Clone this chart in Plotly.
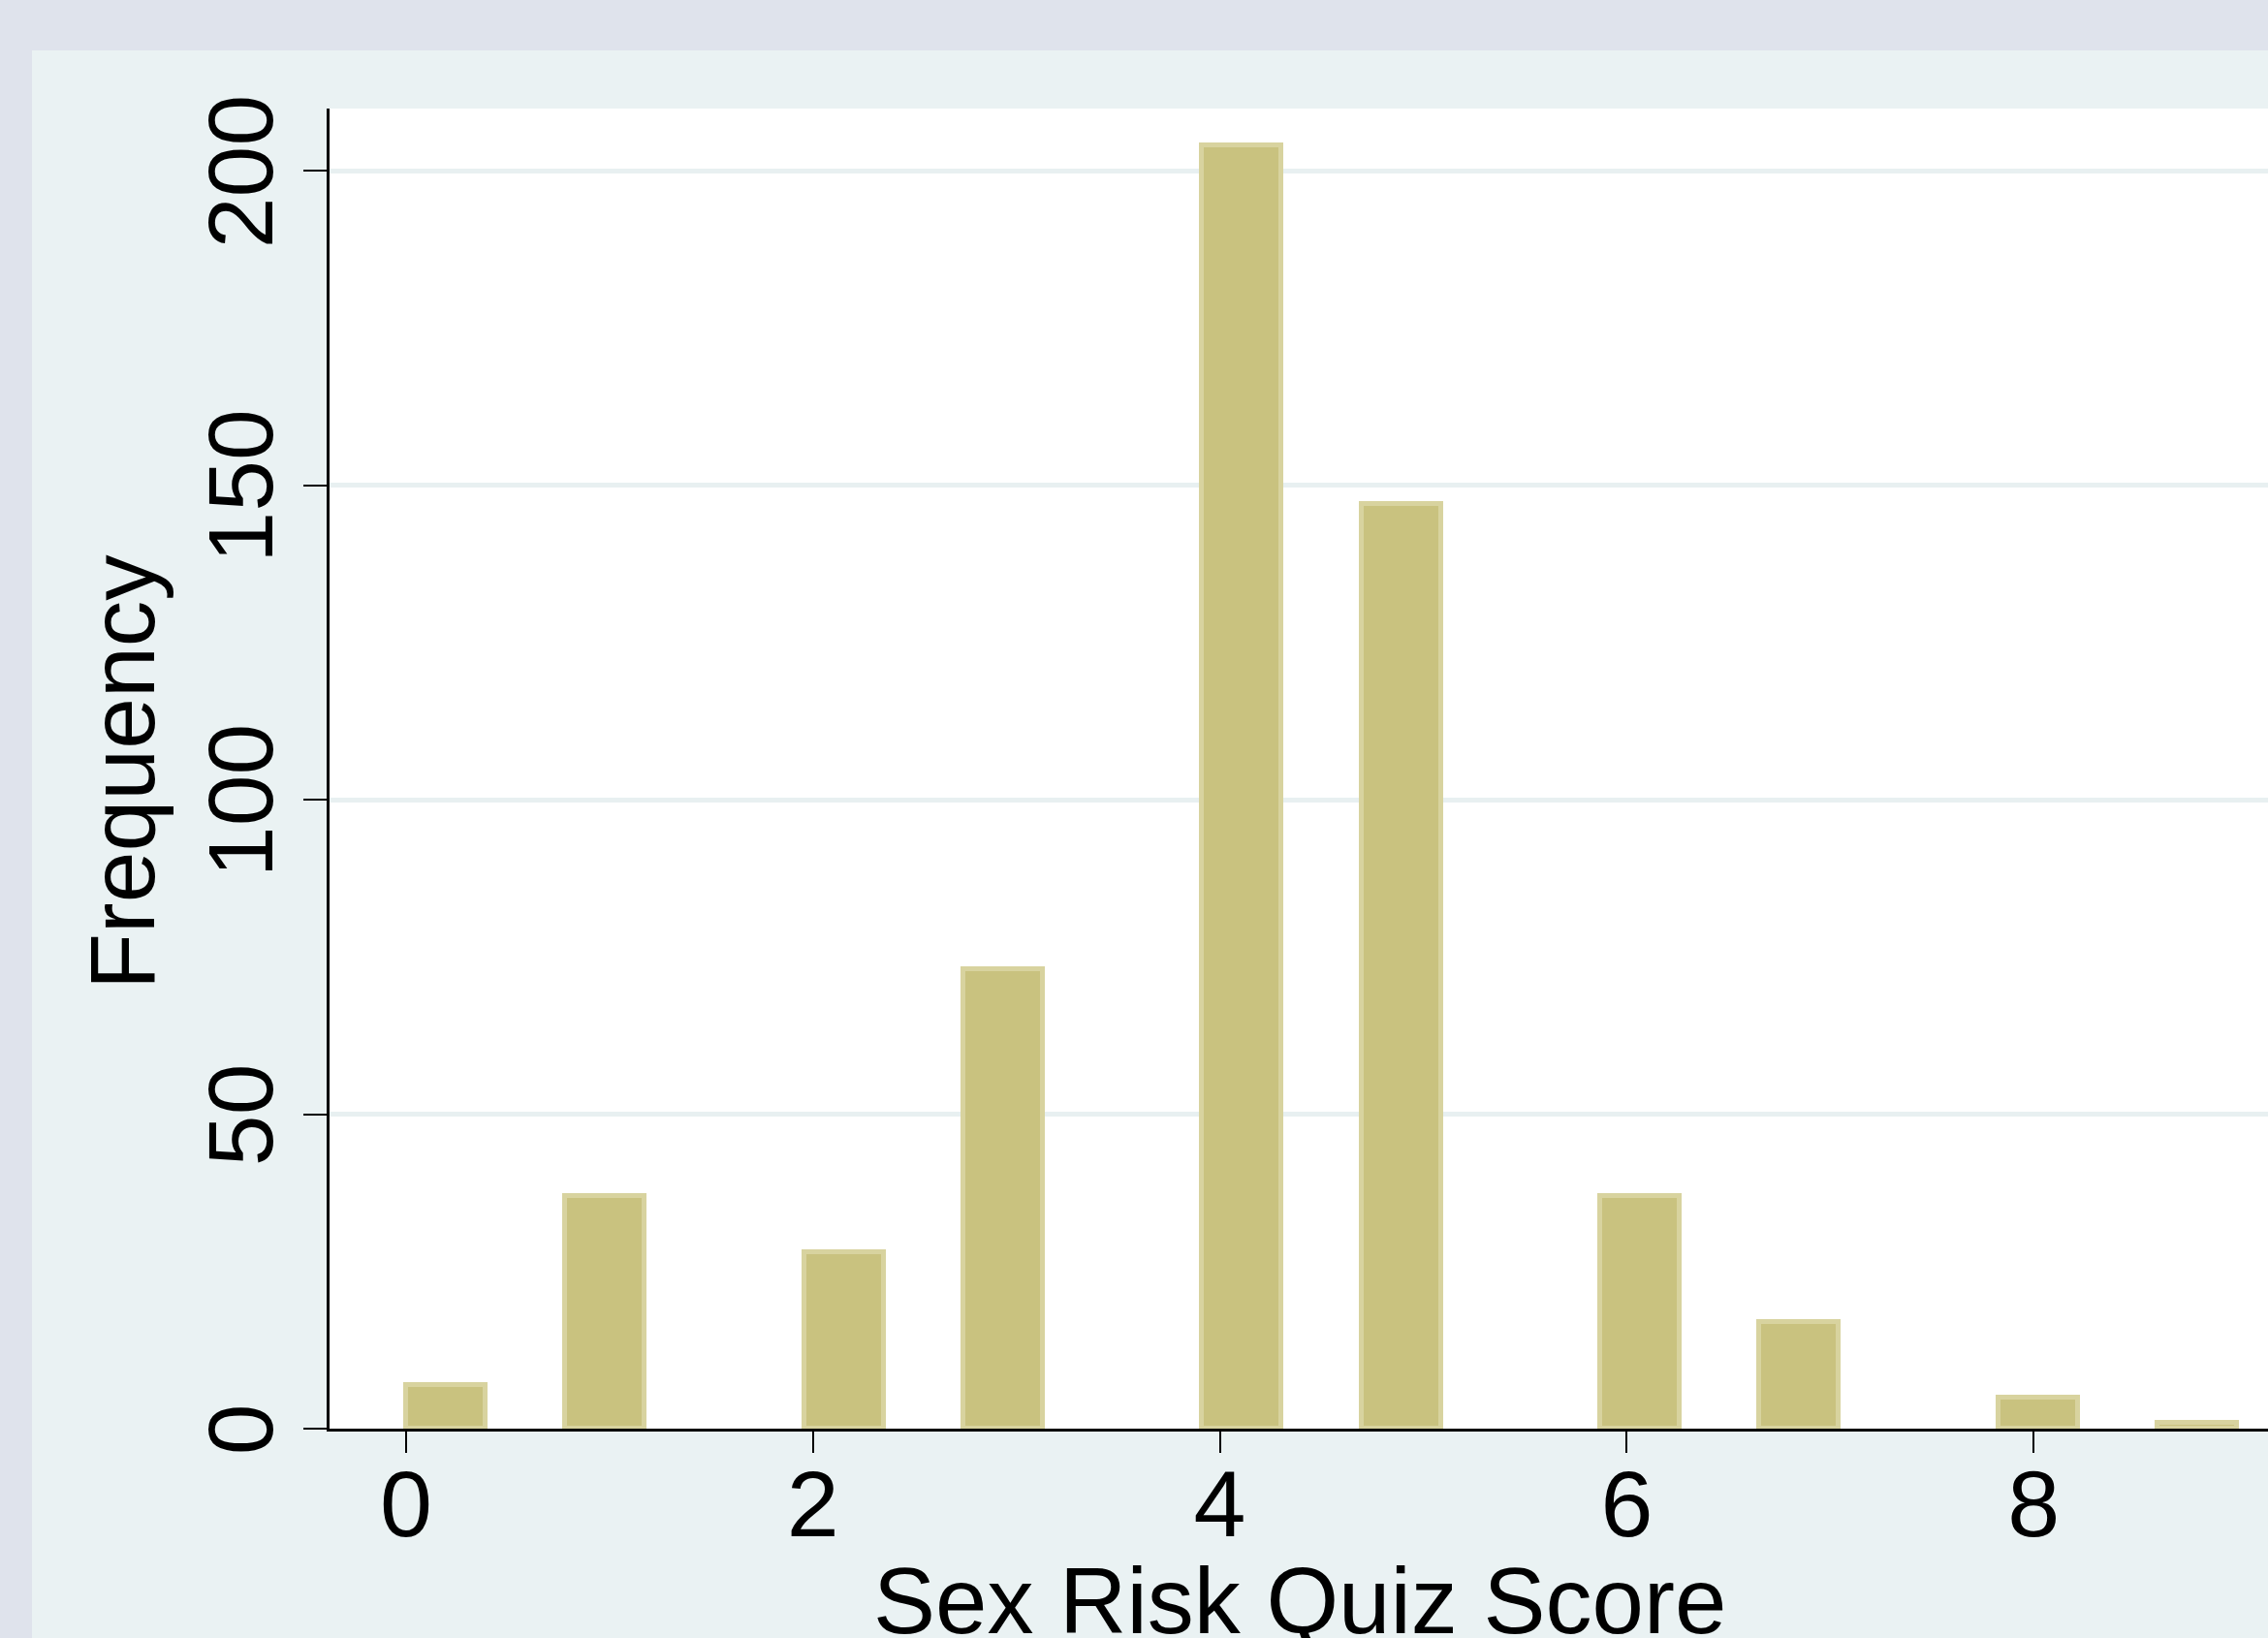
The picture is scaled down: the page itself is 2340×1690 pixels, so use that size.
import math
import plotly.graph_objects as go

# ---- data ----
scores = [0, 1, 2, 3, 4, 5, 6, 7, 8, 9]
frequency = [7, 37, 28, 73, 204, 147, 37, 17, 5, 1]
n_bins = 23                      # histogram bins spanning the score range 0..9
x_ticks = [0, 2, 4, 6, 8]
y_ticks = [0, 50, 100, 150, 200]
x_title = "Sex Risk Quiz Score"
y_title = "Frequency"

# histogram bin placement (Stata-style bins)
lo, hi = min(scores), max(scores)
bin_w = (hi - lo) / n_bins
bin_start = [lo + min(int(math.floor((s - lo) / bin_w + 1e-9)), n_bins - 1) * bin_w for s in scores]

W, H = 2340, 1690
M_L, M_R, M_T, M_B = 340, 0, 112, 216
plot_w = W - M_L - M_R
plot_h = H - M_T - M_B
FONT = "Liberation Sans, Arial, Helvetica, sans-serif"


def px_x(px):
    return (px - M_L) / plot_w


def px_y(py):
    return (H - M_B - py) / plot_h


fig = go.Figure()
fig.add_trace(go.Bar(
    x=bin_start, y=frequency, width=bin_w, offset=0,
    marker=dict(color="#c9c27f", line=dict(color="#d8d39f", width=5)),
    hoverinfo="x+y", showlegend=False,
))

# outer (graph region) bands in the darker blue-grey
OUTER = "#dfe3ec"
fig.add_shape(type="rect", xref="paper", yref="paper", layer="below",
              x0=px_x(-50), x1=px_x(W + 50), y0=px_y(52), y1=px_y(-50),
              fillcolor=OUTER, line=dict(width=0))
fig.add_shape(type="rect", xref="paper", yref="paper", layer="below",
              x0=px_x(-50), x1=px_x(33), y0=px_y(H + 50), y1=px_y(-50),
              fillcolor=OUTER, line=dict(width=0))

# axis titles
fig.add_annotation(text=x_title, xref="paper", yref="paper",
                   x=px_x(1341), y=px_y(1596), xanchor="center", yanchor="top",
                   showarrow=False, font=dict(size=96, color="#000000"))
fig.add_annotation(text=y_title, xref="paper", yref="paper",
                   x=px_x(126), y=px_y(797), xanchor="center", yanchor="middle",
                   textangle=-90, showarrow=False, font=dict(size=95, color="#000000"))

fig.update_layout(
    width=W, height=H,
    margin=dict(l=M_L, r=M_R, t=M_T, b=M_B, autoexpand=False),
    paper_bgcolor="#eaf2f3",
    plot_bgcolor="#ffffff",
    font=dict(family=FONT, size=95, color="#000000"),
    bargap=0,
    xaxis=dict(
        range=[-0.376, 9.152], tickvals=x_ticks, ticktext=[str(t) for t in x_ticks],
        showgrid=False, zeroline=False, showline=True, linecolor="#000000", linewidth=3,
        ticks="outside", ticklen=22, tickwidth=2, tickcolor="#000000",
        tickfont=dict(size=97), ticklabelstandoff=-30,
        automargin=False,
    ),
    yaxis=dict(
        range=[0, 209.9], tickvals=y_ticks, ticktext=[str(t) for t in y_ticks],
        showgrid=True, gridcolor="#e8f0f1", gridwidth=5,
        zeroline=False, showline=True, linecolor="#000000", linewidth=3,
        ticks="outside", ticklen=24, tickwidth=2, tickcolor="#000000",
        tickangle=-90, tickfont=dict(size=95), ticklabelstandoff=-6, ticklabelshift=15,
        automargin=False,
    ),
)

fig.write_html("out.html", config={"displayModeBar": False},
               post_script="document.body.style.margin='0';document.body.style.overflow='hidden';")
